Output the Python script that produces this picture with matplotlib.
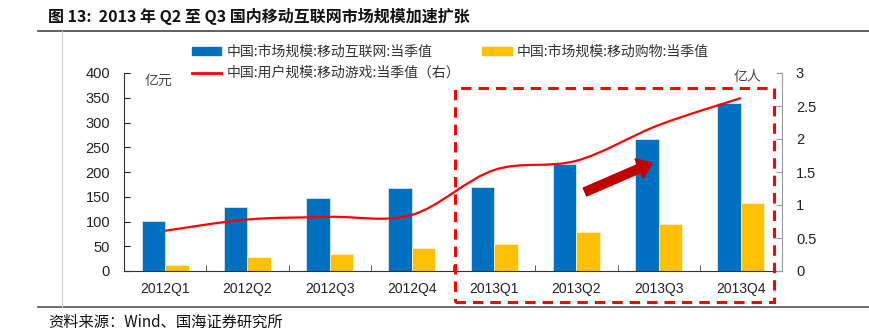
import matplotlib.pyplot as plt
from matplotlib.path import Path
from matplotlib.patches import PathPatch, Rectangle, Patch
from matplotlib.lines import Line2D
import numpy as np

plt.rcParams['font.family'] = ['Liberation Sans', 'Noto Sans CJK SC', 'DejaVu Sans']

quarters = ['2012Q1', '2012Q2', '2012Q3', '2012Q4',
            '2013Q1', '2013Q2', '2013Q3', '2013Q4']
mobile_internet = [102, 129, 148, 168, 170, 217, 267, 339]    # 亿元
mobile_shopping = [12, 28, 35, 47, 55, 79, 95, 137]           # 亿元
mobile_game_users = [0.61, 0.78, 0.82, 0.85, 1.53, 1.67, 2.21, 2.62]  # 亿人 (右)

name_internet = '中国:市场规模:移动互联网:当季值'
name_shopping = '中国:市场规模:移动购物:当季值'
name_game = '中国:用户规模:移动游戏:当季值（右）'

BLUE = '#0070C0'
YELLOW = '#FFC000'
RED = '#FF0000'
CJK = ['Noto Sans CJK SC', 'DejaVu Sans']

W, H = 869, 336
fig = plt.figure(figsize=(W / 100, H / 100), dpi=100)


def fx(px):
    return px / W


def fy(py):
    return 1 - py / H


ax = fig.add_axes([fx(124), fy(271), fx(782) - fx(124), fy(73) - fy(271)])
ax2 = ax.twinx()

x = np.arange(len(quarters))
bw = 0.285
ax.bar(x - bw / 2, mobile_internet, bw, color=BLUE, edgecolor='#d8e6f3', linewidth=0.6, zorder=2)
ax.bar(x + bw / 2, mobile_shopping, bw, color=YELLOW, edgecolor='#fff2cc', linewidth=0.6, zorder=2)

ax.set_xlim(-0.5, len(quarters) - 0.5)
ax.set_ylim(0, 400)
ax.set_yticks(np.arange(0, 401, 50))
ax.set_xticks(x)
ax.set_xticklabels(quarters)
ax.set_xticks(np.arange(0.5, len(quarters) - 0.5, 1), minor=True)
ax.tick_params(axis='x', which='major', length=0, pad=8, labelsize=10, colors='#222222')
ax.tick_params(axis='x', which='minor', length=4, direction='in', color='#444444')
ax.tick_params(axis='y', length=4, direction='in', labelsize=10.5, pad=10, colors='#222222')
for s in ['top', 'right']:
    ax.spines[s].set_visible(False)
ax.spines['left'].set_color('#333333')
ax.spines['bottom'].set_color('#333333')

# smoothed line (Catmull-Rom style bezier through the data points)
pts = np.column_stack([x, mobile_game_users]).astype(float)
verts = [pts[0]]
codes = [Path.MOVETO]
for i in range(len(pts) - 1):
    p0 = pts[max(i - 1, 0)]
    p1 = pts[i]
    p2 = pts[i + 1]
    p3 = pts[min(i + 2, len(pts) - 1)]
    c1 = p1 + (p2 - p0) / 6
    c2 = p2 - (p3 - p1) / 6
    verts += [c1, c2, p2]
    codes += [Path.CURVE4] * 3
ax2.add_patch(PathPatch(Path(verts, codes), fill=False, edgecolor=RED, lw=1.6, zorder=3))
ax2.set_ylim(0, 3)
ax2.set_yticks([0, 0.5, 1, 1.5, 2, 2.5, 3])
ax2.set_yticklabels(['0', '0.5', '1', '1.5', '2', '2.5', '3'])
ax2.tick_params(axis='y', length=4, direction='in', labelsize=10.5, pad=10, colors='#222222')
ax2.tick_params(axis='y', color='#999999')
for s in ['top', 'left', 'bottom']:
    ax2.spines[s].set_visible(False)
ax2.spines['right'].set_color('#999999')

# unit labels
fig.text(fx(145), fy(81), '亿元', family=CJK, fontsize=10, color='#444444', va='center')
fig.text(fx(734), fy(77), '亿人', family=CJK, fontsize=10, color='#444444', va='center')

# legend
handles = [Patch(color=BLUE), Line2D([], [], color=RED, lw=2), Patch(color=YELLOW)]
labels = [name_internet, name_game, name_shopping]
leg = fig.legend(handles, labels, ncol=2, loc='upper left',
                 bbox_to_anchor=(fx(179), fy(32)), frameon=False,
                 prop={'family': CJK, 'size': 10}, handlelength=2.15, handleheight=0.5,
                 handletextpad=0.36, columnspacing=1.6, labelspacing=0.55,
                 labelcolor='#333333')

# highlight box and arrow
fig.patches.append(Rectangle((fx(455), fy(302)), fx(774) - fx(455), fy(88) - fy(302),
                             transform=fig.transFigure, fill=False, edgecolor=RED,
                             lw=2.2, linestyle=(0, (3.4, 2.3)), zorder=5))
ax.annotate('', xy=(652, H - 163), xytext=(585, H - 192),
            xycoords='figure pixels', textcoords='figure pixels',
            arrowprops=dict(arrowstyle='simple,head_length=1.0,head_width=1.5,tail_width=0.62',
                            mutation_scale=10, color='#C00000', shrinkA=0, shrinkB=0))

# frame lines, title, source
fig.add_artist(Line2D([fx(38), 1], [fy(31), fy(31)], color='#444444', lw=1.2))
fig.add_artist(Line2D([fx(38), 1], [fy(307), fy(307)], color='#555555', lw=1.2))
fig.add_artist(Line2D([fx(62), fx(62)], [fy(31), fy(307)], color='#cccccc', lw=0.8))
fig.text(fx(48), fy(16), '图 13:  2013 年 Q2 至 Q3 国内移动互联网市场规模加速扩张',
         family=CJK, fontsize=11.5, fontweight='bold', va='center', color='#111111')
fig.text(fx(48), fy(322), '资料来源：Wind、国海证券研究所',
         family=CJK, fontsize=11, va='center', color='#111111')

fig.savefig('out.png', dpi=100)
